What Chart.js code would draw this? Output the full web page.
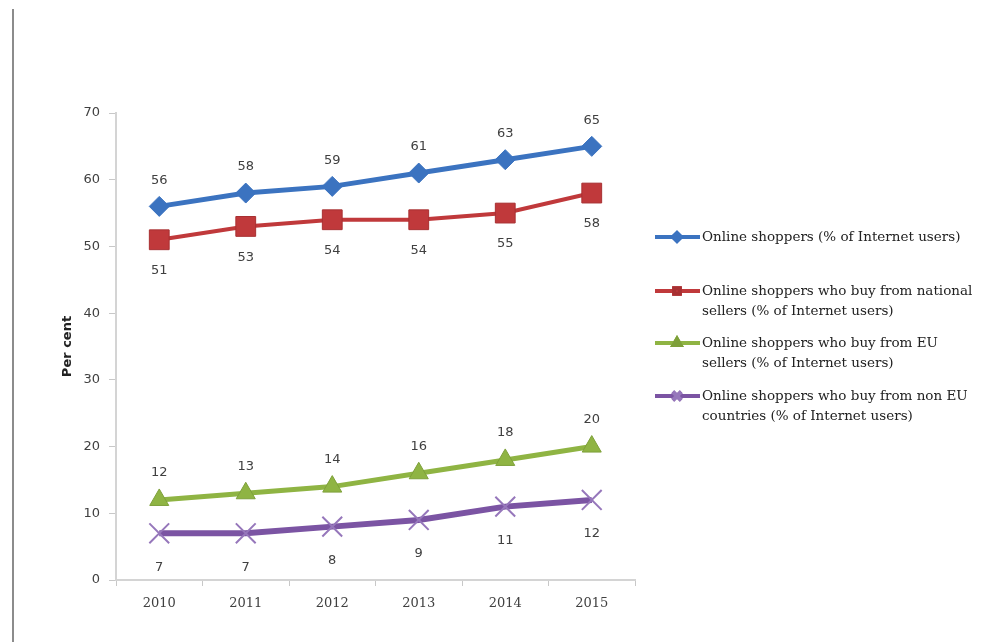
<!DOCTYPE html>
<html>
<head>
<meta charset="utf-8">
<title>Online shoppers</title>
<script src="https://cdn.jsdelivr.net/npm/chart.js@4/dist/chart.umd.min.js"></script>
<style>
  body { margin: 0; background: #fff; }
  #wrap { position: relative; width: 982px; height: 642px; }
  #edge { position: absolute; left: 12px; top: 9px; width: 2px; height: 633px; background: #8c8c8c; }
  canvas { position: absolute; left: 0; top: 0; }
</style>
</head>
<body>
<div id="wrap">
  <div id="edge"></div>
  <canvas id="shopChart" width="982" height="642"></canvas>
</div>
<script>
// values
const years = ["2010", "2011", "2012", "2013", "2014", "2015"];
const onlineShoppers = [56, 58, 59, 61, 63, 65];
const nationalSellers = [51, 53, 54, 54, 55, 58];
const euSellers = [12, 13, 14, 16, 18, 20];
const nonEuCountries = [7, 7, 8, 9, 11, 12];
const yTicks = [0, 10, 20, 30, 40, 50, 60, 70];

const legendLines = [
  ["Online shoppers (% of Internet users)"],
  ["Online shoppers who buy from national", "sellers (% of Internet users)"],
  ["Online shoppers who buy from EU", "sellers (% of Internet users)"],
  ["Online shoppers who buy from non EU", "countries (% of Internet users)"]
];

// value labels above / below each point
const valueLabels = {
  id: "valueLabels",
  afterDatasetsDraw(chart) {
    const ctx = chart.ctx;
    ctx.save();
    ctx.font = "13px 'DejaVu Sans'";
    ctx.fillStyle = "#404040";
    ctx.textAlign = "center";
    ctx.textBaseline = "middle";
    chart.data.datasets.forEach((ds, i) => {
      const meta = chart.getDatasetMeta(i);
      meta.data.forEach((pt, j) => {
        ctx.fillText(String(ds.data[j]), pt.x, pt.y + ds.labelShift);
      });
    });
    ctx.restore();
  }
};

// legend on the right, line with small marker like the original
const sideLegend = {
  id: "sideLegend",
  afterDraw(chart) {
    const ctx = chart.ctx;
    const rows = [237, 291, 343, 396];
    ctx.save();
    chart.data.datasets.forEach((ds, i) => {
      const y = rows[i];
      ctx.strokeStyle = ds.borderColor;
      ctx.lineWidth = 4;
      ctx.beginPath();
      ctx.moveTo(655, y);
      ctx.lineTo(700, y);
      ctx.stroke();
      Chart.helpers.drawPoint(ctx, {
        pointStyle: ds.pointStyle,
        radius: ds.pointStyle === "crossRot" ? 6 : 4,
        rotation: 0,
        borderWidth: 1.5
      }, 677, y);
      ctx.fillStyle = ds.pointBackgroundColor;
      ctx.strokeStyle = ds.pointBorderColor;
      ctx.fill();
      ctx.stroke();
      ctx.fillStyle = "#222";
      ctx.font = "13.5px 'DejaVu Serif'";
      ctx.textAlign = "left";
      ctx.textBaseline = "middle";
      legendLines[i].forEach((line, k) => {
        ctx.fillText(line, 702, y + k * 20);
      });
    });
    ctx.restore();
  }
};

const ctx = document.getElementById("shopChart").getContext("2d");
const chart = new Chart(ctx, {
  type: "line",
  data: {
    labels: years,
    datasets: [
      {
        label: legendLines[0].join(" "),
        data: onlineShoppers,
        borderColor: "#3b73c0",
        borderWidth: 5,
        pointStyle: "rectRot",
        pointRadius: 10,
        pointBackgroundColor: "#3b73c0",
        pointBorderColor: "#3b73c0",
        pointBorderWidth: 1,
        labelShift: -26
      },
      {
        label: legendLines[1].join(" "),
        data: nationalSellers,
        borderColor: "#c0393b",
        borderWidth: 4,
        pointStyle: "rect",
        pointRadius: 14,
        pointBackgroundColor: "#c0393b",
        pointBorderColor: "#a83032",
        pointBorderWidth: 1,
        labelShift: 31
      },
      {
        label: legendLines[2].join(" "),
        data: euSellers,
        borderColor: "#8fb443",
        borderWidth: 5,
        pointStyle: "triangle",
        pointRadius: 11,
        pointBackgroundColor: "#8fb443",
        pointBorderColor: "#7ea03a",
        pointBorderWidth: 1,
        labelShift: -27
      },
      {
        label: legendLines[3].join(" "),
        data: nonEuCountries,
        borderColor: "#7b54a3",
        borderWidth: 6,
        pointStyle: "crossRot",
        pointRadius: 14,
        pointBackgroundColor: "#7b54a3",
        pointBorderColor: "#9677bb",
        pointBorderWidth: 2,
        labelShift: 34
      }
    ]
  },
  options: {
    responsive: false,
    animation: false,
    layout: { padding: { left: 50, top: 113, right: 347, bottom: 0 } },
    plugins: {
      legend: { display: false },
      tooltip: { enabled: false }
    },
    scales: {
      x: {
        offset: true,
        grid: { offset: true, drawOnChartArea: false, tickLength: 6, color: "#c8c8c8" },
        border: { color: "#d4d4d4", width: 2 },
        ticks: { padding: 10, color: "#404040", font: { family: "DejaVu Serif", size: 13 } },
        afterFit(scale) { scale.height = 62; }
      },
      y: {
        min: 0,
        max: 70,
        afterBuildTicks(scale) { scale.ticks = yTicks.map(v => ({ value: v })); },
        grid: { drawOnChartArea: false, tickLength: 7, color: "#c8c8c8" },
        border: { color: "#d4d4d4", width: 2 },
        ticks: { padding: 9, color: "#404040", font: { family: "DejaVu Sans", size: 13 } },
        title: {
          display: true,
          text: "Per cent",
          color: "#222",
          padding: { top: 10, bottom: 0 },
          font: { family: "DejaVu Sans", size: 13, weight: "bold" }
        },
        afterFit(scale) { scale.width = 66; }
      }
    }
  },
  plugins: [valueLabels, sideLegend]
});
</script>
</body>
</html>
